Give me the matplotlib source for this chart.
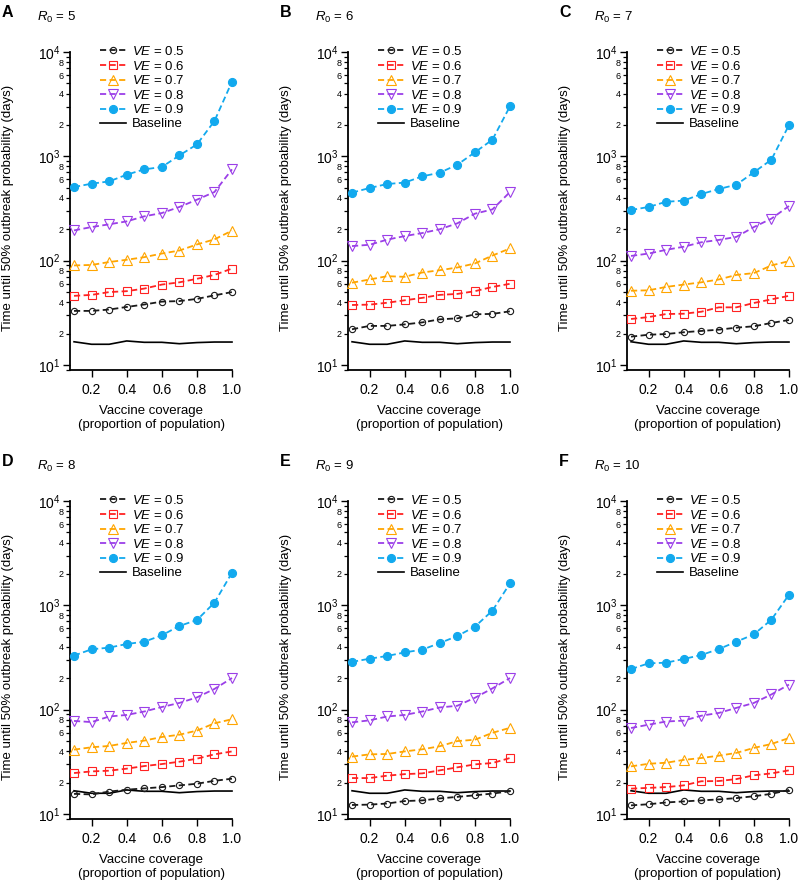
import matplotlib
matplotlib.use('Agg')
import matplotlib.pyplot as plt
from matplotlib.ticker import LogLocator, FuncFormatter, FixedLocator

plt.rcParams['font.family'] = ['Liberation Sans', 'DejaVu Sans']
plt.rcParams['mathtext.fontset'] = 'custom'
plt.rcParams['mathtext.rm'] = 'Liberation Sans'
plt.rcParams['mathtext.it'] = 'Liberation Sans:italic'
plt.rcParams['mathtext.bf'] = 'Liberation Sans:bold'

# ---------------- data ----------------
coverage = [0.1, 0.2, 0.3, 0.4, 0.5, 0.6, 0.7, 0.8, 0.9, 1.0]
ve_levels = [0.5, 0.6, 0.7, 0.8, 0.9]
r0_values = [5, 6, 7, 8, 9, 10]
panel_letters = ['A', 'B', 'C', 'D', 'E', 'F']

baseline = [16.7, 15.8, 15.8, 17.0, 16.5, 16.5, 16.0, 16.4, 16.6, 16.6]

# rows: VE = 0.5, 0.6, 0.7, 0.8, 0.9
time_r0_5 = [
    [33, 33, 34, 36, 38, 40.5, 41, 43, 46.5, 50],
    [46, 47, 50, 51, 54, 59, 62, 67, 73, 84],
    [90, 91, 97, 102, 108, 117, 125, 143, 160, 194],
    [195, 210, 223, 238, 266, 286, 327, 384, 455, 750],
    [508, 547, 575, 667, 750, 790, 1020, 1300, 2180, 5200],
]
time_r0_6 = [
    [22, 23.7, 23.7, 24.5, 25.6, 27.4, 28, 30.6, 30.9, 32.7],
    [37.6, 37.9, 39.5, 41.7, 44, 47, 48, 51, 56, 60],
    [61.5, 66, 71, 70, 77, 81, 86, 94, 112, 131],
    [138, 142, 159, 172, 184, 200, 228, 282, 310, 455],
    [449, 497, 543, 560, 643, 697, 832, 1092, 1445, 3016],
]
time_r0_7 = [
    [18.7, 19.5, 19.8, 20.6, 21.2, 21.8, 22.8, 23.5, 25.3, 27],
    [27.6, 28.8, 30.8, 31, 32.4, 35.7, 35.7, 39.3, 42.6, 46],
    [51.5, 52, 56, 59, 62, 66, 73, 76, 90, 99],
    [111, 117, 127, 136, 150, 158, 169, 210, 253, 334],
    [306, 327, 367, 376, 435, 486, 535, 703, 930, 1995],
]
time_r0_8 = [
    [15.6, 15.4, 16.4, 17.1, 17.6, 18.1, 18.8, 19.5, 20.8, 21.8],
    [24.7, 25.6, 26, 27.2, 28.8, 30.1, 31.7, 33.9, 37.3, 39.8],
    [41.4, 43.6, 44.9, 48, 50.5, 54.7, 57.5, 63, 74, 81],
    [78, 76, 86, 89, 96, 106, 116, 131, 158, 201],
    [330, 379, 393, 426, 448, 516, 634, 723, 1061, 2055],
]
time_r0_9 = [
    [12.2, 12.3, 12.6, 13.3, 13.5, 14.1, 14.6, 15.1, 15.7, 16.5],
    [22.1, 22.1, 23.3, 24.1, 24.5, 26.2, 28, 29.9, 30.8, 34.4],
    [35.5, 37.3, 37.6, 39.8, 41.7, 44.6, 50, 51.5, 60, 67],
    [75.6, 79, 86, 89, 96, 105, 109, 130, 160, 201],
    [287, 308, 327, 354, 376, 435, 508, 625, 889, 1625],
]
time_r0_10 = [
    [12.1, 12.4, 12.9, 13.2, 13.5, 13.8, 14.2, 14.8, 15.6, 17],
    [17.5, 17.8, 18.1, 18.8, 20.6, 20.7, 21.6, 23.5, 24.5, 26.2],
    [28.6, 30.3, 31, 33, 34.4, 36.2, 38.5, 43, 46.9, 53.5],
    [66.7, 71.8, 77, 78.5, 87.5, 93, 104, 116, 140, 174],
    [245, 278, 282, 306, 334, 381, 448, 527, 729, 1265],
]
panel_data = [time_r0_5, time_r0_6, time_r0_7, time_r0_8, time_r0_9, time_r0_10]

# ---------------- styles ----------------
colors = ['#1a1a1a', '#FF2222', '#FFA500', '#9B3FE8', '#12A9EE']
markers = ['o', 's', '^', 'v', 'o']
msizes = [4.5, 5.5, 6.5, 6.5, 5.8]
filled = [False, False, False, False, True]

W, H = 800, 882
fig = plt.figure(figsize=(W / 100, H / 100), dpi=100)

lefts = [70, 348, 627]
tops = [52, 501]
aw, ah = 162, 318
ymin = 10 ** (1 - 5 / 104.3)


def minor_fmt(v, pos):
    import math
    e = math.floor(math.log10(v) + 1e-9)
    m = round(v / 10 ** e)
    return str(m) if m in (2, 4, 6, 8) else ''


def major_fmt(v, pos):
    import math
    e = int(round(math.log10(v)))
    return r'$10^{%d}$' % e


for i, (r0, data, letter) in enumerate(zip(r0_values, panel_data, panel_letters)):
    row, col = divmod(i, 3)
    l, t = lefts[col], tops[row]
    ax = fig.add_axes([l / W, 1 - (t + ah) / H, aw / W, ah / H])

    for k, ve in enumerate(ve_levels):
        ax.plot(coverage, data[k], linestyle=(0, (3.4, 1.9)), lw=1.3,
                color=colors[k], marker=markers[k], ms=msizes[k],
                mfc=colors[k] if filled[k] else 'none', mec=colors[k],
                mew=0.8, clip_on=False, label=r'$VE$ = %.1f' % ve, zorder=3)
    ax.plot(coverage, baseline, color='black', lw=1.2, label='Baseline',
            clip_on=False, zorder=2)

    ax.set_yscale('log')
    ax.set_ylim(ymin, 1e4)
    ax.set_xlim(0.077, 1.0)
    ax.yaxis.set_major_locator(FixedLocator([10, 100, 1000, 10000]))
    ax.yaxis.set_major_formatter(FuncFormatter(major_fmt))
    ax.yaxis.set_minor_locator(LogLocator(base=10, subs=range(2, 10)))
    ax.yaxis.set_minor_formatter(FuncFormatter(minor_fmt))
    ax.set_xticks([0.2, 0.4, 0.6, 0.8, 1.0])
    ax.set_xticklabels(['0.2', '0.4', '0.6', '0.8', '1.0'])

    for s in ['top', 'right']:
        ax.spines[s].set_visible(False)
    for s in ['left', 'bottom']:
        ax.spines[s].set_linewidth(1.3)
    ax.tick_params(axis='both', which='major', direction='out', length=5,
                   width=1.0, labelsize=10, pad=2)
    ax.tick_params(axis='y', which='minor', direction='out', length=3,
                   width=0.9, labelsize=6.5, pad=1.5)
    ax.tick_params(axis='x', which='major', length=5, pad=4.5)

    ax.set_ylabel('Time until 50% outbreak probability (days)', fontsize=9.5)
    ax.yaxis.set_label_coords(-56 / aw, 0.51)
    ax.set_xlabel('Vaccine coverage\n(proportion of population)', fontsize=9.5,
                  linespacing=1.25)
    ax.xaxis.set_label_coords(0.5, -35 / ah)

    ax.legend(loc='upper left', bbox_to_anchor=(30 / aw, 1 + 7 / ah),
              frameon=False, fontsize=9.5, borderpad=0, borderaxespad=0,
              labelspacing=0.12, handlelength=2.0, handletextpad=0.4,
              numpoints=1)

    fig.text((l - 68) / W, 1 - (t - 47) / H, letter,
             fontsize=11.5, fontweight='bold', ha='left', va='top')
    fig.text((l - 33) / W, 1 - (t - 31) / H, r'$R_0$ = %d' % r0,
             fontsize=9.5, ha='left', va='baseline')

fig.savefig('out.png', dpi=100)
